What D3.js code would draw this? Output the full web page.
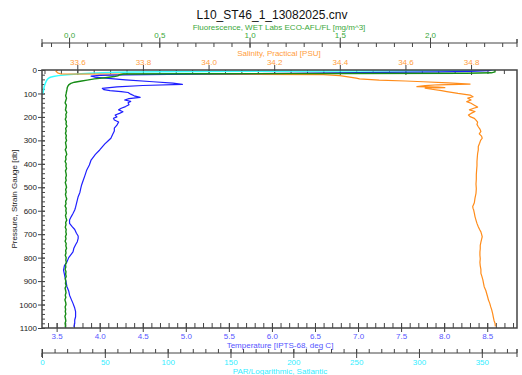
<!DOCTYPE html>
<html>
<head>
<meta charset="utf-8">
<script src="https://cdn.jsdelivr.net/npm/d3@7"></script>
<style>
  body { margin: 0; background: #fff; }
  svg { display: block; font-family: 'Liberation Sans', Arial, sans-serif; }
  .axis path, .axis line { stroke: #444; }
</style>
</head>
<body>
<svg id="chart" width="522" height="375"></svg>
<script>
// CTD cast data
const chartTitle = 'L10_ST46_1_13082025.cnv';

const tempP = [0, 3, 6, 8, 11, 14, 17, 19, 21, 23, 26, 30, 36, 42, 50, 56, 61, 66, 72, 78, 84, 88, 92, 96, 103, 110, 117, 122, 128, 134, 140, 148, 156, 163, 170, 178, 185, 192, 200, 206, 213, 222, 235, 248, 260, 275, 291, 305, 315, 328, 341, 360, 384, 405, 426, 448, 469, 490, 505, 522, 540, 555, 570, 585, 597, 612, 625, 640, 654, 668, 680, 696, 708, 718, 732, 745, 760, 775, 790, 800, 818, 835, 853, 870, 888, 905, 924, 942, 960, 978, 995, 1015, 1030, 1052, 1066, 1080, 1095];
const tempV = [8.55, 8.52, 8.3, 7.95, 7.0, 6.2, 5.3, 4.8, 4.3, 4.0, 3.9, 3.94, 4.1, 4.3, 4.62, 4.85, 4.96, 4.5, 4.2, 4.03, 4.05, 4.12, 4.25, 4.33, 4.36, 4.4, 4.47, 4.34, 4.29, 4.36, 4.33, 4.34, 4.3, 4.25, 4.22, 4.27, 4.23, 4.18, 4.2, 4.16, 4.17, 4.22, 4.2, 4.17, 4.17, 4.15, 4.13, 4.09, 4.06, 4.03, 4.0, 3.95, 3.9, 3.88, 3.85, 3.83, 3.81, 3.79, 3.78, 3.77, 3.75, 3.74, 3.73, 3.72, 3.71, 3.69, 3.67, 3.65, 3.65, 3.68, 3.71, 3.73, 3.75, 3.75, 3.74, 3.72, 3.7, 3.69, 3.66, 3.64, 3.62, 3.59, 3.58, 3.59, 3.6, 3.61, 3.62, 3.64, 3.65, 3.67, 3.69, 3.71, 3.72, 3.72, 3.71, 3.71, 3.7];

const salP = [0, 6, 12, 17, 18, 19, 20, 24, 30, 35, 38, 43, 47, 50, 55, 60, 63, 67, 71, 73, 75, 77, 82, 88, 92, 100, 107, 114, 120, 128, 135, 142, 150, 158, 163, 170, 177, 185, 192, 199, 206, 214, 222, 232, 242, 252, 262, 272, 282, 291, 300, 312, 326, 341, 356, 372, 390, 408, 426, 446, 466, 486, 506, 526, 546, 566, 582, 590, 597, 610, 625, 640, 654, 668, 680, 690, 700, 711, 722, 734, 748, 762, 776, 790, 805, 820, 835, 850, 867, 880, 895, 910, 924, 940, 955, 970, 981, 995, 1010, 1023, 1040, 1055, 1068, 1080, 1093];
const salV = [33.54, 33.535, 33.54, 33.55, 33.8, 34.1, 34.35, 34.4, 34.43, 34.45, 34.46, 34.52, 34.6, 34.654, 34.73, 34.797, 34.7, 34.66, 34.635, 34.7, 34.72, 34.66, 34.68, 34.71, 34.726, 34.76, 34.797, 34.806, 34.79, 34.8, 34.787, 34.8, 34.81, 34.82, 34.808, 34.795, 34.812, 34.8, 34.792, 34.797, 34.81, 34.815, 34.82, 34.818, 34.822, 34.827, 34.83, 34.825, 34.832, 34.834, 34.829, 34.826, 34.822, 34.822, 34.82, 34.819, 34.818, 34.818, 34.817, 34.816, 34.816, 34.815, 34.816, 34.815, 34.812, 34.81, 34.805, 34.806, 34.808, 34.81, 34.812, 34.815, 34.818, 34.822, 34.826, 34.83, 34.832, 34.834, 34.832, 34.83, 34.828, 34.828, 34.827, 34.827, 34.828, 34.827, 34.828, 34.83, 34.83, 34.833, 34.836, 34.838, 34.84, 34.845, 34.848, 34.851, 34.853, 34.857, 34.86, 34.863, 34.866, 34.868, 34.87, 34.873, 34.874];

const flP = [0, 8, 12, 14, 15, 16, 17, 20, 25, 28, 33, 38, 43, 47, 52, 57, 62, 68, 75, 85, 95,
  100, 110, 120, 130, 140, 150, 160, 170, 180, 190, 200, 210, 220, 230, 240, 250, 260, 270, 280, 290,
  300, 310, 320, 330, 340, 350, 360, 370, 380, 390, 400, 410, 420, 430, 440, 450, 460, 470, 480, 490,
  500, 510, 520, 530, 540, 550, 560, 570, 580, 590, 600, 610, 620, 630, 640, 650, 660, 670, 680, 690,
  700, 710, 720, 730, 740, 750, 760, 770, 780, 790, 800, 810, 820, 830, 840, 850, 860, 870, 880, 890,
  900, 910, 920, 930, 940, 950, 960, 970, 980, 990, 1000, 1010, 1020, 1030, 1040, 1050, 1060, 1070, 1080, 1090, 1097];
const flV = [2.36, 2.36, 2.34, 2.2, 1.5, 0.7, 0.3, 0.28, 0.27, 0.25, 0.2, 0.14, 0.1, 0.07, 0.03, 0.01, 0.0, -0.006, -0.01, -0.012, -0.015,
  -0.016, -0.019, -0.014, -0.018, -0.022, -0.015, -0.017, -0.02, -0.013, -0.018, -0.016, -0.021, -0.015, -0.017, -0.012, -0.019, -0.016, -0.02, -0.015, -0.018,
  -0.014, -0.02, -0.017, -0.015, -0.021, -0.016, -0.013, -0.019, -0.017, -0.022, -0.016, -0.018, -0.014, -0.02, -0.017, -0.015, -0.019, -0.016, -0.021, -0.017,
  -0.014, -0.019, -0.016, -0.02, -0.017, -0.013, -0.019, -0.017, -0.022, -0.016, -0.018, -0.015, -0.02, -0.017, -0.013, -0.019, -0.017, -0.021, -0.016, -0.018,
  -0.015, -0.02, -0.017, -0.022, -0.016, -0.018, -0.014, -0.019, -0.017, -0.021, -0.016, -0.018, -0.015, -0.02, -0.018, -0.022, -0.017, -0.019, -0.016, -0.021,
  -0.018, -0.02, -0.016, -0.022, -0.019, -0.017, -0.021, -0.018, -0.023, -0.019, -0.017, -0.022, -0.019, -0.021, -0.018, -0.023, -0.02, -0.018, -0.022, -0.02, -0.021];

const parP = [0, 1, 2, 3, 4, 5, 6, 7, 8, 10, 12, 14, 17, 20, 24, 28, 31, 36, 42, 50, 57, 65, 75, 85, 95, 100];
const parV = [360, 355, 330, 300, 240, 180, 130, 95, 75, 60, 48, 38, 28, 20, 13, 9, 6.6, 5, 4, 3.2, 2.6, 2.1, 1.6, 1.3, 0.9, 0.6];

const pressureTicks = d3.range(0, 1101, 100);
const tempTicks = [3.5, 4.0, 4.5, 5.0, 5.5, 6.0, 6.5, 7.0, 7.5, 8.0, 8.5];
const salTicks = [33.6, 33.8, 34.0, 34.2, 34.4, 34.6, 34.8];
const flTicks = [0.0, 0.5, 1.0, 1.5, 2.0];
const parTicks = [0, 50, 100, 150, 200, 250, 300, 350];

const colors = {
  temp: '#1f1fff', tempText: '#5555ff',
  sal: '#ff8c1a', salText: '#ff9d3c',
  fl: '#168c16', flText: '#3aa83a',
  par: '#33ffff', parText: '#33eeff',
};

const fontSize = '8px';
const svg = d3.select('#chart');
const margin = { top: 70, left: 42, right: 517, bottom: 328 };

const yScale = d3.scaleLinear().domain([0, 1100]).range([margin.top, margin.bottom]);
const xTemp = d3.scaleLinear().domain([3.33, 8.846]).range([margin.left, margin.right]);
const xSal = d3.scaleLinear().domain([33.4924, 34.94]).range([margin.left, margin.right]);
const xFl = d3.scaleLinear().domain([-0.15, 2.482]).range([margin.left, margin.right]);
const xPar = d3.scaleLinear().domain([0, 378]).range([margin.left, margin.right]);

// title
svg.append('text')
  .attr('x', 272).attr('y', 19)
  .attr('text-anchor', 'middle')
  .attr('font-size', '12px')
  .attr('fill', '#111')
  .text(chartTitle);

function axisTitle(x, y, color, label) {
  svg.append('text')
    .attr('x', x).attr('y', y)
    .attr('text-anchor', 'middle')
    .attr('font-size', fontSize)
    .attr('fill', color)
    .text(label);
}

// Fluorescence axis (free-standing, top)
const flAxisY = 43;
svg.append('g')
  .attr('class', 'axis')
  .attr('transform', `translate(0,${flAxisY})`)
  .call(d3.axisBottom(xFl).tickValues(d3.range(-0.1, 2.45, 0.1)).tickSize(4).tickFormat(''))
  .call((g) => g.select('.domain').attr('d', `M${margin.left},-4V4V0H${margin.right}V-4V4`));
svg.append('g')
  .attr('class', 'axis')
  .attr('transform', `translate(0,${flAxisY + 5})`)
  .call(d3.axisTop(xFl).tickValues(flTicks).tickSize(10).tickPadding(0).tickFormat(d3.format('.1f')))
  .call((g) => g.select('.domain').remove())
  .call((g) => g.selectAll('text').attr('fill', colors.flText).attr('font-size', fontSize));
axisTitle(279, 29.5, colors.flText, 'Fluorescence, WET Labs ECO-AFL/FL [mg/m^3]');

// Salinity axis (top of the plot box)
svg.append('g')
  .attr('class', 'axis')
  .attr('transform', `translate(0,${margin.top})`)
  .call(d3.axisBottom(xSal).tickValues(d3.range(33.5, 34.93, 0.05)).tickSize(4).tickFormat(''))
  .call((g) => g.select('.domain').remove());
svg.append('g')
  .attr('class', 'axis')
  .attr('transform', `translate(0,${margin.top + 5})`)
  .call(d3.axisTop(xSal).tickValues(salTicks).tickSize(10).tickPadding(0).tickFormat(d3.format('.1f')))
  .call((g) => g.select('.domain').remove())
  .call((g) => g.selectAll('text').attr('fill', colors.salText).attr('font-size', fontSize));
axisTitle(279, 56, colors.salText, 'Salinity, Practical [PSU]');

// Temperature axis (bottom of the plot box)
svg.append('g')
  .attr('class', 'axis')
  .attr('transform', `translate(0,${margin.bottom})`)
  .call(d3.axisTop(xTemp).tickValues(d3.range(3.4, 8.85, 0.1)).tickSize(5).tickFormat(''))
  .call((g) => g.select('.domain').remove());
svg.append('g')
  .attr('class', 'axis')
  .attr('transform', `translate(0,${margin.bottom - 5})`)
  .call(d3.axisBottom(xTemp).tickValues(tempTicks).tickSize(9).tickPadding(1).tickFormat(d3.format('.1f')))
  .call((g) => g.select('.domain').remove())
  .call((g) => g.selectAll('text').attr('fill', colors.tempText).attr('font-size', fontSize));
axisTitle(280, 348, colors.tempText, 'Temperature [IPTS-68, deg C]');

// PAR axis (free-standing, bottom)
const parAxisY = 353;
svg.append('g')
  .attr('class', 'axis')
  .attr('transform', `translate(0,${parAxisY})`)
  .call(d3.axisTop(xPar).tickValues(d3.range(10, 378, 10)).tickSize(4).tickFormat(''))
  .call((g) => g.select('.domain').attr('d', `M${margin.left},-4V4V0H${margin.right}V-4V4`));
svg.append('g')
  .attr('class', 'axis')
  .attr('transform', `translate(0,${parAxisY - 4})`)
  .call(d3.axisBottom(xPar).tickValues(parTicks).tickSize(9).tickPadding(1))
  .call((g) => g.select('.domain').remove())
  .call((g) => g.selectAll('text').attr('fill', colors.parText).attr('font-size', fontSize));
axisTitle(280, 374, colors.parText, 'PAR/Logarithmic, Satlantic');

// Pressure axis (left)
svg.append('g')
  .attr('class', 'axis')
  .attr('transform', `translate(${margin.left},0)`)
  .call(d3.axisRight(yScale).tickValues(d3.range(0, 1101, 20)).tickSize(3).tickFormat(''))
  .call((g) => g.select('.domain').remove());
svg.append('g')
  .attr('class', 'axis')
  .attr('transform', `translate(${margin.left + 3},0)`)
  .call(d3.axisLeft(yScale).tickValues(pressureTicks).tickSize(7).tickPadding(1).tickFormat(d3.format('d')))
  .call((g) => g.select('.domain').remove())
  .call((g) => g.selectAll('text').attr('fill', '#222').attr('font-size', fontSize));
svg.append('text')
  .attr('transform', `translate(14,${(margin.top + margin.bottom) / 2}) rotate(-90)`)
  .attr('dy', '0.35em')
  .attr('text-anchor', 'middle')
  .attr('font-size', fontSize)
  .attr('fill', '#222')
  .text('Pressure, Strain Gauge [db]');

// data lines
const plot = svg.append('g');
plot.append('defs').append('clipPath').attr('id', 'clip')
  .append('rect')
  .attr('x', margin.left).attr('y', margin.top)
  .attr('width', margin.right - margin.left).attr('height', margin.bottom - margin.top);

function drawProfile(ps, vs, xScale, color, width) {
  const line = d3.line()
    .x((d) => xScale(d[1]))
    .y((d) => yScale(d[0]));
  plot.append('path')
    .datum(d3.zip(ps, vs))
    .attr('clip-path', 'url(#clip)')
    .attr('fill', 'none')
    .attr('stroke', color)
    .attr('stroke-width', width)
    .attr('stroke-linejoin', 'round')
    .attr('d', line);
}

drawProfile(parP, parV, xPar, colors.par, 1.5);
drawProfile(salP, salV, xSal, colors.sal, 1.2);
drawProfile(tempP, tempV, xTemp, colors.temp, 1.2);
drawProfile(flP, flV, xFl, colors.fl, 1.4);

// plot frame (top, right, bottom, left)
svg.append('path')
  .attr('fill', 'none')
  .attr('stroke', '#444')
  .attr('stroke-width', 1.5)
  .attr('d', `M${margin.left},${margin.bottom}V${margin.top}H${margin.right}V${margin.bottom}H${margin.left}`);
</script>
</body>
</html>
